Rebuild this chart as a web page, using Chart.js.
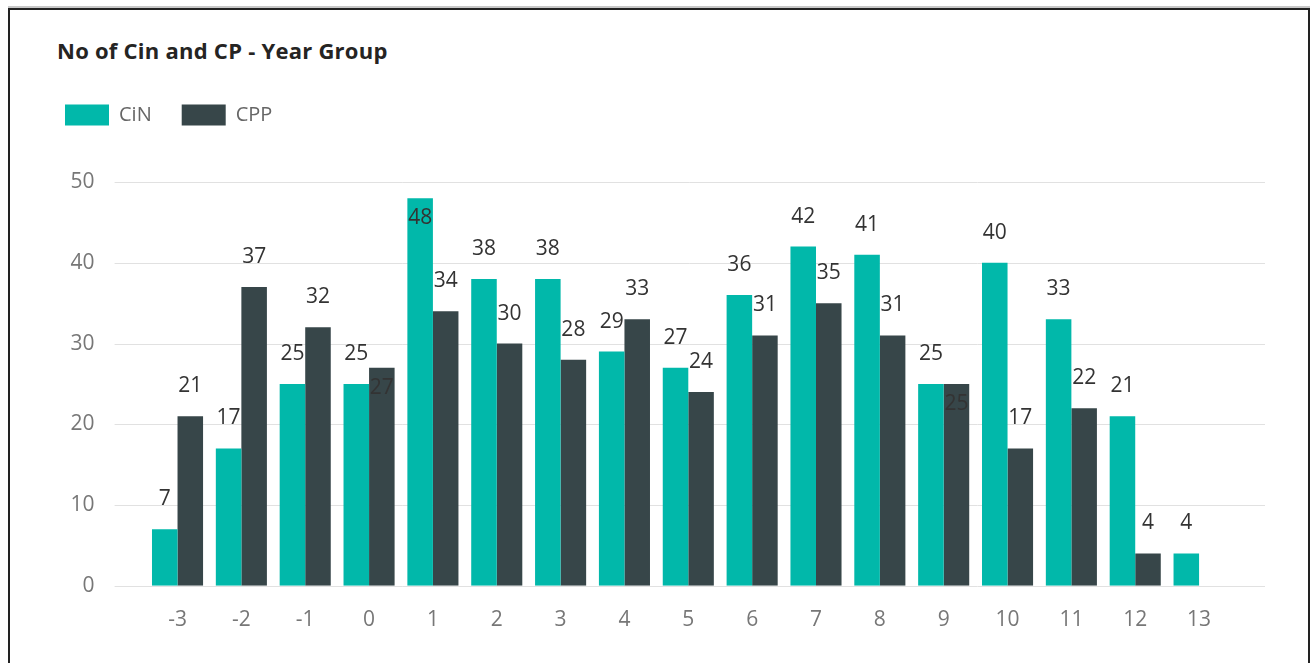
<!DOCTYPE html>
<html>
<head>
<meta charset="utf-8">
<script src="https://cdn.jsdelivr.net/npm/chart.js@4.4.1/dist/chart.umd.min.js"></script>
<style>
  html, body { margin: 0; padding: 0; background: #fff; }
  body { width: 1311px; height: 663px; position: relative; overflow: hidden; }
  #frame { position: absolute; left: 8px; top: 8px; width: 1298px; height: 700px; border: 2px solid #222; box-shadow: 0 -2px 0 #c8c8c8; }
  #title { position: absolute; left: 57px; top: 35px; font: bold 22px 'Open Sans', sans-serif; letter-spacing: 0.25px; color: #252423; white-space: nowrap; }
  canvas { position: absolute; left: 0; top: 0; }
</style>
</head>
<body>
<div id="frame"></div>
<div id="title">No of Cin and CP - Year Group</div>
<canvas id="chart" width="1311" height="663"></canvas>
<script>
// year groups on the x axis
const yearGroups = ['-3', '-2', '-1', '0', '1', '2', '3', '4', '5', '6', '7', '8', '9', '10', '11', '12', '13'];
const cinValues = [7, 17, 25, 25, 48, 38, 38, 29, 27, 36, 42, 41, 25, 40, 33, 21, 4];
const cppValues = [21, 37, 32, 27, 34, 30, 28, 33, 24, 31, 35, 31, 25, 17, 22, 4, null];
const yTicks = [0, 10, 20, 30, 40, 50];

// labels that sit inside the bar top instead of above it (as in the original)
const cinInside = ['1'];
const cppInside = ['0', '9'];

Chart.defaults.font.family = "'Open Sans', sans-serif";

// horizontal grid lines run a bit wider than the bar area
const wideGrid = {
  id: 'wideGrid',
  beforeDatasetsDraw(chart) {
    const { ctx, chartArea, scales } = chart;
    const y = scales.y;
    ctx.save();
    ctx.strokeStyle = '#e1e1e1';
    ctx.lineWidth = 1;
    y.ticks.forEach(t => {
      const py = Math.round(y.getPixelForValue(t.value)) + 0.5;
      ctx.beginPath();
      ctx.moveTo(chartArea.left - 31, py);
      ctx.lineTo(chartArea.right + 34, py);
      ctx.stroke();
    });
    ctx.restore();
  }
};

// value labels
const barLabels = {
  id: 'barLabels',
  afterDatasetsDraw(chart) {
    const ctx = chart.ctx;
    const inside = [cinInside, cppInside];
    ctx.save();
    ctx.font = "21px 'Open Sans', sans-serif";
    ctx.fillStyle = '#333';
    ctx.textAlign = 'center';
    ctx.textBaseline = 'middle';
    chart.data.datasets.forEach((ds, di) => {
      chart.getDatasetMeta(di).data.forEach((bar, i) => {
        const v = ds.data[i];
        if (v == null) return;
        const isIn = inside[di].includes(yearGroups[i]);
        ctx.fillText(String(v), bar.x, isIn ? bar.y + 20 : bar.y - 30);
      });
    });
    ctx.restore();
  }
};

// extra room under the legend
const legendGap = {
  id: 'legendGap',
  beforeLayout(chart) {
    const lg = chart.legend;
    if (!lg || lg._gapPatched) return;
    const fit = lg.fit;
    lg.fit = function () {
      fit.call(this);
      this.height += 46.5;
    };
    lg._gapPatched = true;
  }
};

new Chart(document.getElementById('chart'), {
  type: 'bar',
  data: {
    labels: yearGroups,
    datasets: [
      { label: 'CiN', data: cinValues, backgroundColor: '#01B8AA' },
      { label: 'CPP', data: cppValues, backgroundColor: '#374649' }
    ]
  },
  options: {
    responsive: false,
    animation: false,
    devicePixelRatio: 1,
    layout: { padding: { left: 35, top: 74.5, right: 80, bottom: 8 } },
    datasets: { bar: { categoryPercentage: 0.8, barPercentage: 1.0 } },
    plugins: {
      title: { display: false },
      tooltip: { enabled: false },
      legend: {
        position: 'top',
        align: 'start',
        labels: {
          boxWidth: 44,
          boxHeight: 21,
          padding: 30,
          color: '#666',
          font: { size: 20 }
        }
      }
    },
    scales: {
      x: {
        grid: { display: false, drawTicks: false },
        border: { display: false },
        ticks: { color: '#777', font: { size: 21 }, padding: 22, maxRotation: 0, autoSkip: false }
      },
      y: {
        min: 0,
        max: 50,
        grid: { display: false, drawTicks: false },
        border: { display: false },
        afterBuildTicks: s => { s.ticks = yTicks.map(v => ({ value: v })); },
        afterFit: s => { s.width = 110.6; },
        ticks: { color: '#777', font: { size: 21 }, padding: 51 }
      }
    }
  },
  plugins: [wideGrid, barLabels, legendGap]
});
</script>
</body>
</html>
